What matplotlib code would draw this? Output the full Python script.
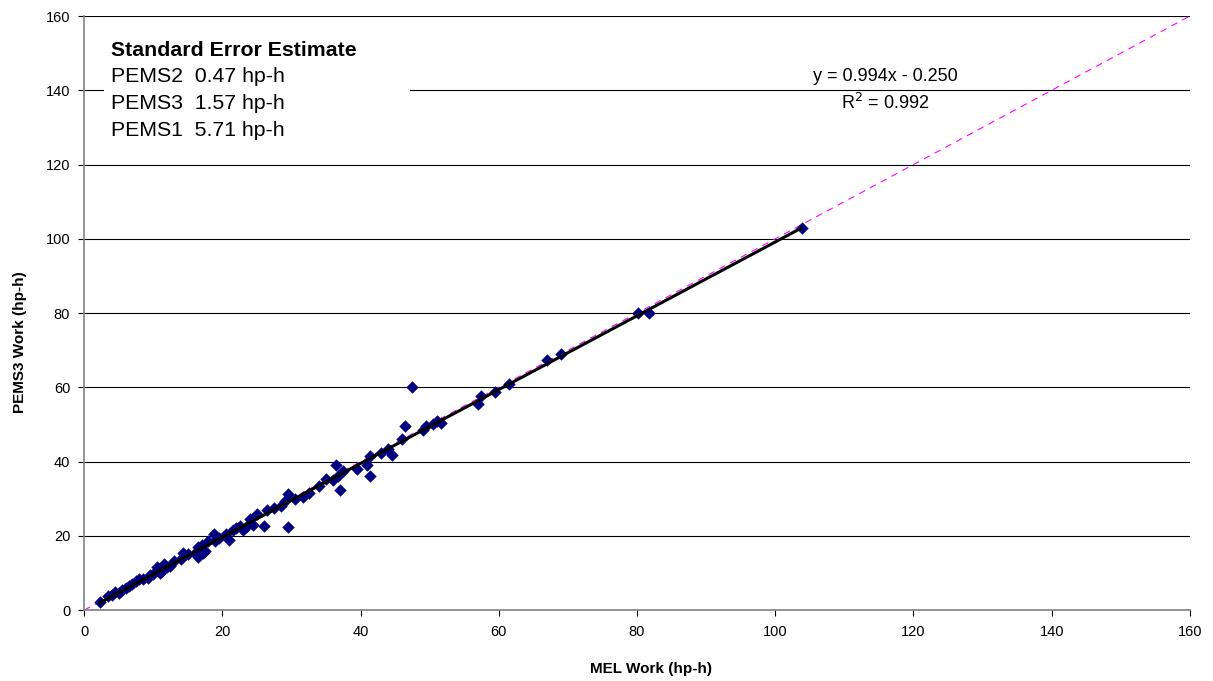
import numpy as np
import matplotlib
matplotlib.use('Agg')
import matplotlib.pyplot as plt
from matplotlib.patches import Rectangle

plt.rcParams['font.family'] = ['Liberation Sans', 'DejaVu Sans']

# MEL work vs PEMS3 work, hp-h
mel = [2.3, 3.5, 4.0, 4.5, 5.0, 5.5, 6.0, 6.5, 7.0, 7.5, 8.0, 8.5, 9.2, 9.5, 10.0,
       10.5, 11.0, 11.3, 11.5, 12.0, 12.5, 13.0, 14.0, 14.3, 15.0, 16.0, 16.5, 16.5,
       17.0, 17.2, 17.5, 18.0, 18.8, 19.0, 19.5, 20.5, 21.0, 21.5, 22.0, 22.5, 23.0,
       23.5, 24.0, 24.5, 25.0, 26.0, 26.5, 27.5, 28.5, 29.0, 29.5, 29.5, 30.5, 31.7,
       32.5, 34.0, 35.0, 36.0, 36.5, 36.8, 37.0, 37.5, 39.5, 41.0, 41.3, 41.3, 43.0,
       44.0, 44.5, 46.0, 46.5, 47.5, 49.0, 49.5, 50.5, 51.0, 51.7, 57.0, 57.5, 59.5,
       61.5, 67.0, 69.0, 80.2, 81.7, 103.8]
pems3 = [2.2, 3.8, 4.0, 5.0, 4.5, 5.5, 6.0, 6.5, 7.0, 7.8, 8.3, 8.5, 8.7, 9.5, 9.7,
         11.5, 10.0, 10.5, 12.5, 11.5, 12.0, 13.2, 13.8, 15.3, 15.0, 15.5, 17.0, 14.2,
         17.5, 15.5, 16.0, 18.5, 20.5, 18.5, 19.5, 20.5, 19.0, 21.5, 22.0, 22.8, 21.5,
         22.5, 24.5, 23.0, 25.8, 22.8, 27.0, 27.5, 28.0, 29.5, 31.2, 22.3, 30.0, 30.5,
         31.5, 33.5, 35.2, 35.0, 39.0, 36.0, 32.3, 37.5, 38.0, 39.2, 41.5, 36.2, 42.2,
         43.5, 41.7, 46.0, 49.5, 60.2, 48.5, 49.7, 50.2, 51.0, 50.3, 55.5, 57.8, 58.8,
         60.8, 67.5, 69.0, 80.0, 80.0, 103.0]

slope, intercept = 0.994, -0.250
r2 = 0.992
std_err = [('PEMS2', 0.47), ('PEMS3', 1.57), ('PEMS1', 5.71)]

fig = plt.figure(figsize=(12.13, 6.81), dpi=100)
ax = fig.add_axes([0.0693, 0.104, 0.9117, 0.8725])

# 1:1 reference line
ax.plot([0, 160], [0, 160], color='#ff00ff', linestyle=(0, (6, 5)), linewidth=0.8, zorder=2)

ax.scatter(mel, pems3, marker='D', s=40, color='#000080', zorder=3, linewidths=0)

# linear fit
xfit = np.array([min(mel), max(mel)])
ax.plot(xfit, slope * xfit + intercept, color='black', linewidth=2.2, zorder=4)

ax.set_xlim(0, 160)
ax.set_ylim(0, 160)
ax.set_xticks(range(0, 161, 20))
ax.set_yticks(range(0, 161, 20))
ax.yaxis.grid(True, color='black', linewidth=0.8)
ax.set_axisbelow(True)
for s in ['top', 'right']:
    ax.spines[s].set_visible(False)
for s in ['left', 'bottom']:
    ax.spines[s].set_color('#808080')
    ax.spines[s].set_linewidth(1.2)
ax.tick_params(axis='both', labelsize=10.5, length=4, direction='out', color='black')
ax.tick_params(axis='x', pad=7)
ax.tick_params(axis='y', pad=6)

ax.set_xlabel('MEL Work (hp-h)', fontsize=11, fontweight='bold')
ax.set_ylabel('PEMS3 Work (hp-h)', fontsize=11, fontweight='bold')
ax.xaxis.set_label_coords(0.513, -0.088)
ax.yaxis.set_label_coords(-0.052, 0.451)

# standard error box
ax.add_patch(Rectangle((2.9, 124), 44.3, 34, facecolor='white', edgecolor='none', zorder=1.5))
ax.text(3.9, 150.8, 'Standard Error Estimate', fontsize=15.3, fontweight='bold', va='center', zorder=5)
for i, (name, val) in enumerate(std_err):
    ax.text(3.9, 143.8 - 7.25 * i, f'{name}  {val:.2f} hp-h', fontsize=15.3, va='center', zorder=5)

ax.text(115.9, 143.6, f'y = {slope:.3f}x - {abs(intercept):.3f}', fontsize=13, ha='center', va='center')
ax.text(115.9, 136.6, f'R$^2$ = {r2:.3f}', fontsize=13, ha='center', va='center')

fig.savefig('out.png', dpi=100)
